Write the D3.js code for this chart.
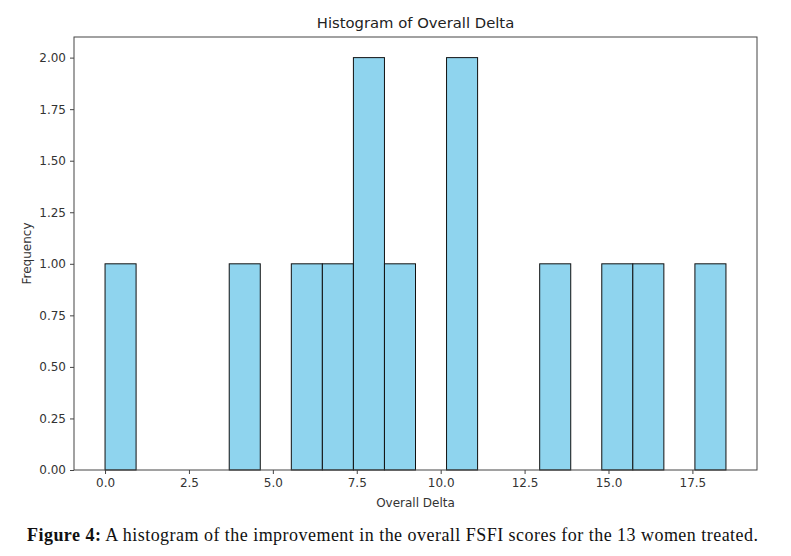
<!DOCTYPE html>
<html>
<head>
<meta charset="utf-8">
<script src="https://cdn.jsdelivr.net/npm/d3@7"></script>
<style>
  html, body { margin: 0; padding: 0; background: #fff; }
  svg { display: block; }
</style>
</head>
<body>
<svg id="chart" width="791" height="556"></svg>
<script>
// ---- data ----
const binStart = 0;
const binEnd = 18.5;
const binCounts = [1, 0, 0, 0, 1, 0, 1, 1, 2, 1, 0, 2, 0, 0, 1, 0, 1, 1, 0, 1];
const xTicks = [0, 2.5, 5, 7.5, 10, 12.5, 15, 17.5];
const yTicks = [0, 0.25, 0.5, 0.75, 1.0, 1.25, 1.5, 1.75, 2.0];
const title = "Histogram of Overall Delta";
const xLabel = "Overall Delta";
const yLabel = "Frequency";

const nBins = binCounts.length;
const binW = (binEnd - binStart) / nBins;
const bins = binCounts.map((c, i) => ({ x0: binStart + i * binW, x1: binStart + (i + 1) * binW, count: c }));

const svg = d3.select("#chart");
const margin = { left: 74, right: 34, top: 37, bottom: 86 };
const W = 791, H = 556;

const pad = (binEnd - binStart) * 0.05;
const x = d3.scaleLinear().domain([binStart - pad, binEnd + pad]).range([margin.left, W - margin.right]);
const yMax = d3.max(binCounts) * 1.05;
const y = d3.scaleLinear().domain([0, yMax]).range([H - margin.bottom, margin.top]);

const font = "DejaVu Sans, sans-serif";

// bars
svg.append("g").selectAll("rect")
  .data(bins.filter(b => b.count > 0))
  .join("rect")
  .attr("x", d => x(d.x0))
  .attr("y", d => y(d.count))
  .attr("width", d => x(d.x1) - x(d.x0))
  .attr("height", d => y(0) - y(d.count))
  .attr("fill", "#8fd4ee")
  .attr("stroke", "#111")
  .attr("stroke-width", 1);

// axes
const xAxis = svg.append("g")
  .attr("transform", `translate(0,${H - margin.bottom})`)
  .call(d3.axisBottom(x).tickValues(xTicks).tickFormat(d3.format(".1f")).tickSize(4).tickPadding(4));
const yAxis = svg.append("g")
  .attr("transform", `translate(${margin.left},0)`)
  .call(d3.axisLeft(y).tickValues(yTicks).tickFormat(d3.format(".2f")).tickSize(4).tickPadding(4));
[xAxis, yAxis].forEach(a => {
  a.select(".domain").remove();
  a.selectAll("line").attr("stroke", "#444");
  a.selectAll("text").attr("font-family", font).attr("font-size", 12).attr("fill", "#333");
});

// frame
svg.append("rect")
  .attr("x", margin.left).attr("y", margin.top)
  .attr("width", W - margin.right - margin.left)
  .attr("height", H - margin.bottom - margin.top)
  .attr("fill", "none").attr("stroke", "#444").attr("stroke-width", 1);

const cx = (margin.left + W - margin.right) / 2;
svg.append("text").attr("x", cx).attr("y", 28).attr("text-anchor", "middle")
  .attr("font-family", font).attr("font-size", 14.8).attr("fill", "#222").text(title);
svg.append("text").attr("x", cx).attr("y", 507).attr("text-anchor", "middle")
  .attr("font-family", font).attr("font-size", 12).attr("fill", "#333").text(xLabel);
svg.append("text").attr("transform", `translate(31,${(margin.top + H - margin.bottom) / 2}) rotate(-90)`)
  .attr("text-anchor", "middle")
  .attr("font-family", font).attr("font-size", 12).attr("fill", "#333").text(yLabel);

// caption
const cap = svg.append("text").attr("x", 27).attr("y", 541)
  .attr("font-family", "Liberation Serif, DejaVu Serif, serif").attr("font-size", 18).attr("fill", "#111");
cap.append("tspan").attr("font-weight", "bold").text("Figure 4:");
cap.append("tspan").text(" A histogram of the improvement in the overall FSFI scores for the 13 women treated.");
// stretch caption to the reference width
const capTarget = 731;
const capW = cap.node().getComputedTextLength();
const nChars = cap.text().length;
cap.attr("letter-spacing", ((capTarget - capW) / (nChars - 1)).toFixed(3));
</script>
</body>
</html>
